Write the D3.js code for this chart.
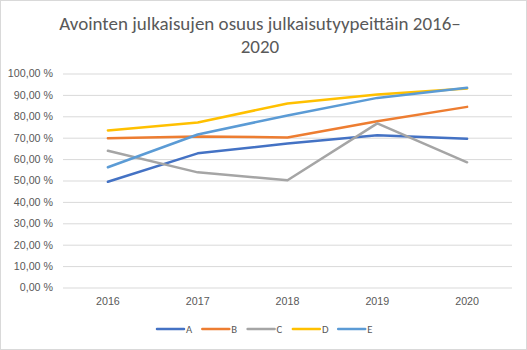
<!DOCTYPE html>
<html>
<head>
<meta charset="utf-8">
<script src="https://cdn.jsdelivr.net/npm/d3@7"></script>
<style>
  body { margin: 0; background: #fff; }
  svg { display: block; font-family: Calibri, Carlito, "Open Sans", sans-serif; }
</style>
</head>
<body>
<svg id="chart" width="527" height="350"></svg>
<script>
let years = ["2016", "2017", "2018", "2019", "2020"];
let seriesNames = ["A", "B", "C", "D", "E"];
let seriesColors = ["#4472C4", "#ED7D31", "#A5A5A5", "#FFC000", "#5B9BD5"];
let valuesA = [49.4, 62.7, 67.3, 71.1, 69.5];
let valuesB = [69.7, 70.6, 70.1, 77.7, 84.4];
let valuesC = [63.9, 53.8, 50.1, 76.7, 58.5];
let valuesD = [73.4, 77.1, 86.0, 90.2, 93.0];
let valuesE = [56.2, 71.5, 80.4, 88.6, 93.3];
let yTicks = [0, 10, 20, 30, 40, 50, 60, 70, 80, 90, 100];
let titleLines = ["Avointen julkaisujen osuus julkaisutyypeittäin 2016–", "2020"];

function getConfig() {
    let margin = { top: 73.5, right: 15, bottom: 62.5, left: 63 };
    let width = 527 - margin.left - margin.right,
        height = 350 - margin.top - margin.bottom;
    let svg = d3.select("#chart");
    let container = svg.append("g")
        .attr("transform", "translate(" + margin.left + "," + margin.top + ")");
    return { svg, container, width, height, margin };
}

function getScales(config) {
    let xScale = d3.scaleBand().domain(years).range([0, config.width]).padding(0);
    let yScale = d3.scaleLinear().domain([0, 100]).range([config.height, 0]);
    let colorScale = d3.scaleOrdinal().domain(seriesNames).range(seriesColors);
    return { xScale, yScale, colorScale };
}

function drawFrame(config) {
    let { svg } = config;
    svg.append("rect")
        .attr("x", 0.5).attr("y", 0.5)
        .attr("width", 526).attr("height", 349)
        .attr("fill", "#fff")
        .attr("stroke", "#D9D9D9");

    svg.selectAll(".title")
        .data(titleLines)
        .enter().append("text")
        .attr("class", "title")
        .attr("x", 260)
        .attr("y", (d, i) => 30 + i * 22.5)
        .attr("text-anchor", "middle")
        .attr("fill", "#595959")
        .style("font-size", "19px")
        .text(d => d);
}

function drawAxes(config, scales) {
    let { container, width, height } = config;
    let { xScale, yScale } = scales;

    let yAxis = d3.axisLeft(yScale)
        .tickValues(yTicks)
        .tickSize(-width)
        .tickPadding(10)
        .tickFormat(d => d3.format(".2f")(d).replace(".", ",") + " %");

    let gy = container.append("g").call(yAxis);
    gy.select(".domain").remove();
    gy.selectAll(".tick line").attr("stroke", "#D9D9D9");
    gy.selectAll(".tick text")
        .attr("fill", "#595959")
        .style("font-size", "10.7px");

    let xAxis = d3.axisBottom(xScale).tickSize(0).tickPadding(10);
    let gx = container.append("g")
        .attr("transform", "translate(0," + height + ")")
        .call(xAxis);
    gx.select(".domain").remove();
    gx.selectAll(".tick text")
        .attr("fill", "#595959")
        .style("font-size", "10.7px");
}

function drawLines(config, scales) {
    let { container } = config;
    let { xScale, yScale, colorScale } = scales;
    let allValues = [valuesA, valuesB, valuesC, valuesD, valuesE];
    let data = seriesNames.map((name, i) => ({ name: name, values: allValues[i] }));

    let line = d3.line()
        .x((d, i) => xScale(years[i]) + xScale.bandwidth() / 2)
        .y(d => yScale(d));

    container.selectAll(".series")
        .data(data)
        .enter().append("path")
        .attr("class", "series")
        .attr("d", d => line(d.values))
        .attr("fill", "none")
        .attr("stroke", d => colorScale(d.name))
        .attr("stroke-width", 2.5)
        .attr("stroke-linejoin", "round")
        .attr("stroke-linecap", "round");
}

function drawLegend(config, scales) {
    let { svg } = config;
    let { colorScale } = scales;

    let legend = svg.selectAll(".legend")
        .data(seriesNames)
        .enter().append("g")
        .attr("class", "legend")
        .attr("transform", (d, i) => "translate(" + (157 + i * 45.3) + ",329)");

    legend.append("line")
        .attr("x1", 0).attr("x2", 27)
        .attr("stroke", d => colorScale(d))
        .attr("stroke-width", 2.5)
        .attr("stroke-linecap", "round");

    legend.append("text")
        .attr("x", 29)
        .attr("dy", "0.35em")
        .attr("fill", "#595959")
        .style("font-size", "10.7px")
        .text(d => d);
}

function drawChart() {
    let config = getConfig();
    drawFrame(config);
    config.container.raise();
    let scales = getScales(config);
    drawAxes(config, scales);
    drawLines(config, scales);
    drawLegend(config, scales);
}

drawChart();
</script>
</body>
</html>
